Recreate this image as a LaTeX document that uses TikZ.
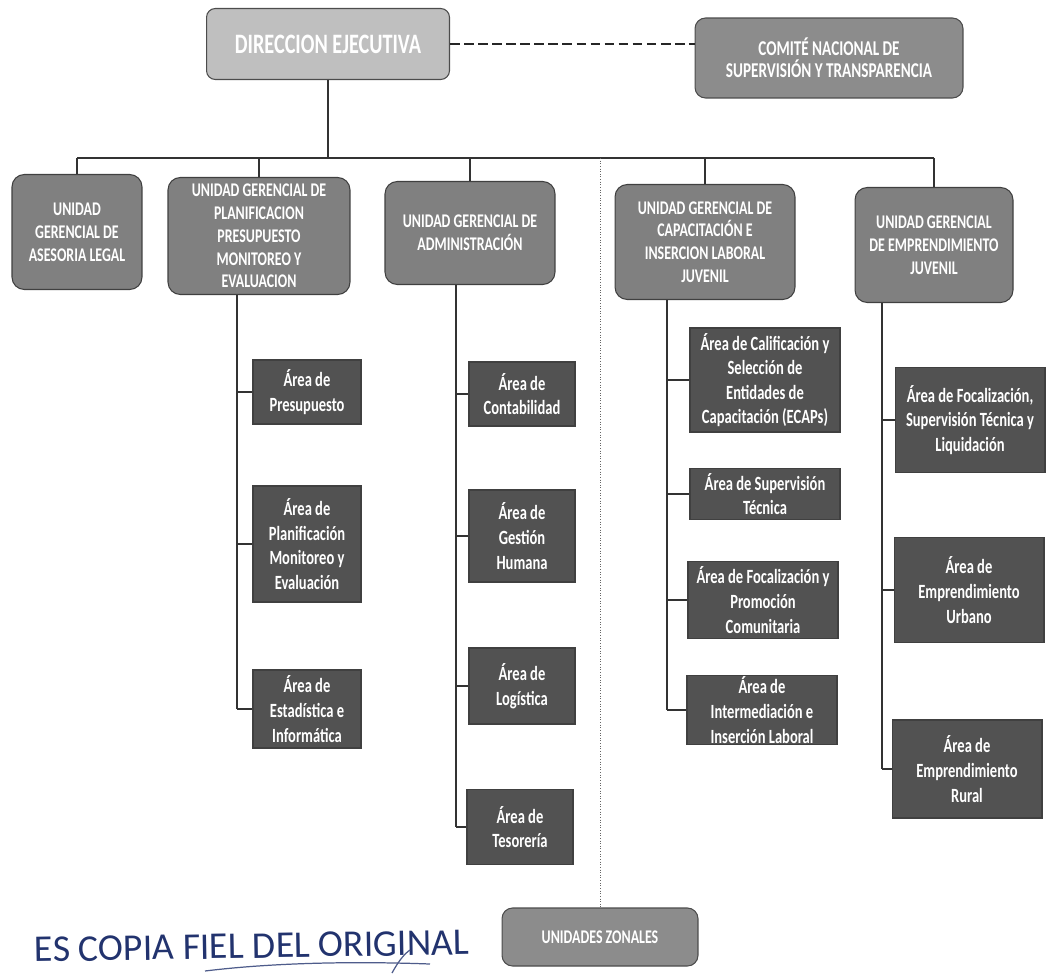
\documentclass[tikz,border=0pt]{standalone}
\usepackage{fontspec}
\newfontfamily\boxfont[FakeStretch=0.72]{Carlito}
\newfontfamily\stampfont{Carlito}
\usetikzlibrary{positioning}
\definecolor{ink}{HTML}{22336E}
\begin{document}
\begin{tikzpicture}[x=0.02cm, y=-0.02cm,
    head/.style={draw=black!70, line width=0.6pt, rounded corners=5pt, fill=black!25, text=white, align=center, font=\boxfont\bfseries\fontsize{16}{18}\selectfont},
    comite/.style={draw=black!70, line width=0.6pt, rounded corners=6pt, fill=black!45, text=white, align=center, font=\boxfont\bfseries\fontsize{12}{12.6}\selectfont},
    unit/.style={draw=black!75, line width=0.6pt, rounded corners=7pt, fill=black!50, text=white, align=center, inner sep=1pt, font=\boxfont\bfseries\fontsize{11}{13}\selectfont},
    area/.style={draw=black!75, line width=0.6pt, fill=black!68, text=white, align=center, inner sep=1pt, font=\boxfont\bfseries\fontsize{11.5}{14}\selectfont},
    conn/.style={black!80, line width=0.6pt},
    dconn/.style={black!85, line width=0.8pt, dash pattern=on 5.5pt off 2.5pt},
    zconn/.style={black!60, line width=0.5pt, densely dotted},
    stamp/.style={text=ink, font=\stampfont\fontsize{21.5}{24}\selectfont}
]
\useasboundingbox (0,0) rectangle (1047,973);

\node[head, minimum width=4.86cm, minimum height=1.42cm] (DE) at (328,44) {DIRECCION EJECUTIVA};
\node[comite, minimum width=5.36cm, minimum height=1.6cm] (CO) at (829,58) {COMITÉ NACIONAL DE\\SUPERVISIÓN Y TRANSPARENCIA};

\node[unit, minimum width=2.6cm, minimum height=2.3cm] (U1) at (77,232) {UNIDAD\\GERENCIAL DE\\ASESORIA LEGAL};
\node[unit, minimum width=3.64cm, minimum height=2.34cm] (U2) at (259,236) {UNIDAD GERENCIAL DE\\PLANIFICACION\\PRESUPUESTO\\MONITOREO Y\\EVALUACION};
\node[unit, minimum width=3.4cm, minimum height=2.06cm] (U3) at (470,233) {UNIDAD GERENCIAL DE\\ADMINISTRACIÓN};
\node[unit, minimum width=3.6cm, minimum height=2.3cm] (U4) at (705,242) {UNIDAD GERENCIAL DE\\CAPACITACIÓN E\\INSERCION LABORAL\\JUVENIL};
\node[unit, minimum width=3.16cm, minimum height=2.3cm] (U5) at (934,245) {UNIDAD GERENCIAL\\DE EMPRENDIMIENTO\\JUVENIL};

\node[area, minimum width=2.16cm, minimum height=1.28cm] (A21) at (307,392) {Área de\\Presupuesto};
\node[area, minimum width=2.16cm, minimum height=2.32cm] (A22) at (307,544) {Área de\\Planificación\\Monitoreo y\\Evaluación};
\node[area, minimum width=2.16cm, minimum height=1.56cm] (A23) at (307,709) {Área de\\Estadística e\\Informática};

\node[area, minimum width=2.12cm, minimum height=1.28cm] (A31) at (522,394) {Área de\\Contabilidad};
\node[area, minimum width=2.12cm, minimum height=1.84cm] (A32) at (522,536) {Área de\\Gestión\\Humana};
\node[area, minimum width=2.12cm, minimum height=1.52cm] (A33) at (522,686) {Área de\\Logística};
\node[area, minimum width=2.12cm, minimum height=1.5cm] (A34) at (520,827) {Área de\\Tesorería};

\node[area, minimum width=3cm, minimum height=2.08cm] (A41) at (765,380) {Área de Calificación y\\Selección de\\Entidades de\\Capacitación (ECAPs)};
\node[area, minimum width=3cm, minimum height=1.02cm] (A42) at (765,494) {Área de Supervisión\\Técnica};
\node[area, minimum width=3cm, minimum height=1.54cm] (A43) at (763,600) {Área de Focalización y\\Promoción\\Comunitaria};
\node[area, minimum width=3cm, minimum height=1.3cm] (A44) at (762,710) {Área de\\Intermediación e\\Inserción Laboral};

\node[area, minimum width=3cm, minimum height=2.1cm] (A51) at (970,420) {Área de Focalización,\\Supervisión Técnica y\\Liquidación};
\node[area, minimum width=3cm, minimum height=2.1cm] (A52) at (969,590) {Área de\\Emprendimiento\\Urbano};
\node[area, minimum width=3cm, minimum height=1.96cm] (A53) at (967,769) {Área de\\Emprendimiento\\Rural};

\node[comite, minimum width=3.92cm, minimum height=1.16cm, font=\boxfont\bfseries\fontsize{11}{13}\selectfont] (UZ) at (600,937) {UNIDADES ZONALES};

\coordinate (bus) at (0,158);
\coordinate (t2) at (237,0);
\coordinate (t3) at (456,0);
\coordinate (t4) at (667,0);
\coordinate (t5) at (882,0);

\draw[dconn] (DE.east) -- (DE.east -| CO.west);
\draw[conn] (DE.south) -- (DE.south |- bus);
\draw[conn] (U1.north |- bus) -- (U5.north |- bus);
\foreach \u in {U1,U2,U3,U4,U5}
    \draw[conn] (\u.north |- bus) -- (\u.north);
\draw[zconn] (UZ.north |- bus) -- (UZ.north);

\draw[conn] (t2 |- U2.south) -- (t2 |- A23.west);
\foreach \a in {A21,A22,A23}
    \draw[conn] (t2 |- \a.west) -- (\a.west);
\draw[conn] (t3 |- U3.south) -- (t3 |- A34.west);
\foreach \a in {A31,A32,A33,A34}
    \draw[conn] (t3 |- \a.west) -- (\a.west);
\draw[conn] (t4 |- U4.south) -- (t4 |- A44.west);
\foreach \a in {A41,A42,A43,A44}
    \draw[conn] (t4 |- \a.west) -- (\a.west);
\draw[conn] (t5 |- U5.south) -- (t5 |- A53.west);
\foreach \a in {A51,A52,A53}
    \draw[conn] (t5 |- \a.west) -- (\a.west);

\node[stamp, rotate=1] (ST) at (252,946) {ES COPIA FIEL DEL ORIGINAL};
\draw[ink!80, line width=0.7pt] (205,971) .. controls (270,963) and (350,961) .. (430,964);
\draw[ink!80, line width=0.7pt] (392,973) .. controls (398,962) and (404,954) .. (410,950);
\end{tikzpicture}
\end{document}
